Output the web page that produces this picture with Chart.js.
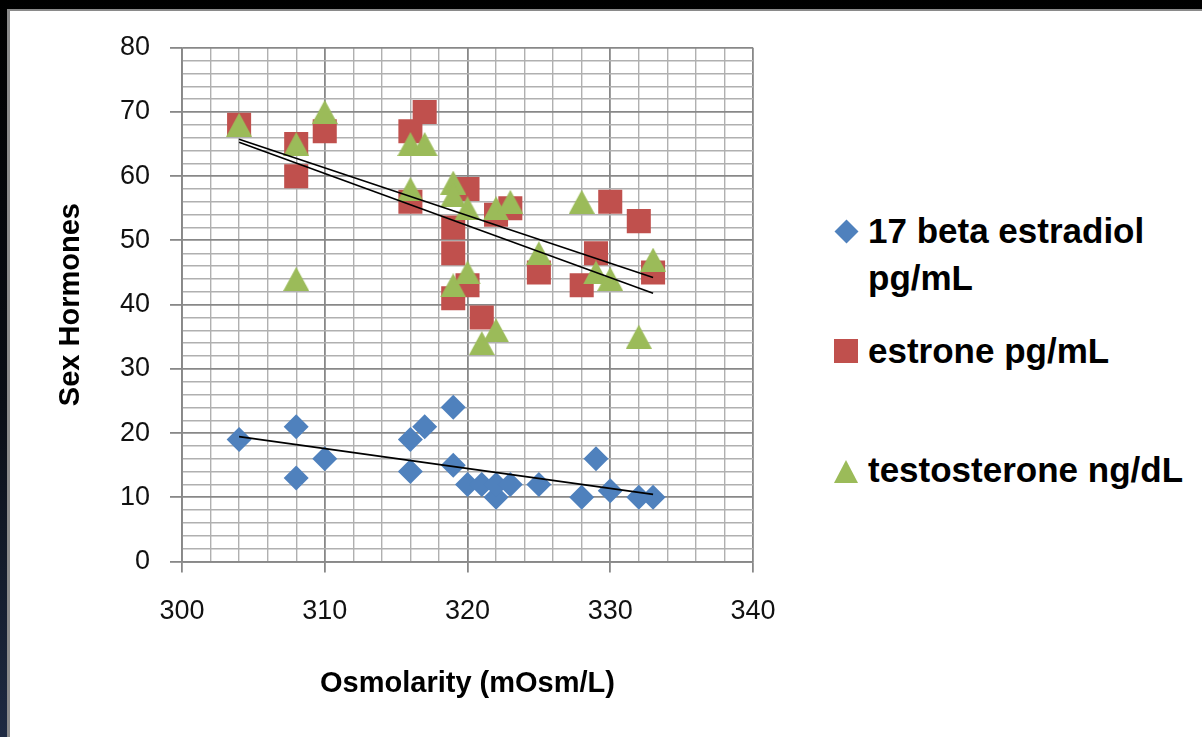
<!DOCTYPE html>
<html>
<head>
<meta charset="utf-8">
<script src="https://cdn.jsdelivr.net/npm/chart.js@4.4.1/dist/chart.umd.min.js"></script>
<style>
  html, body { margin: 0; padding: 0; }
  body {
    width: 1202px; height: 737px; position: relative; overflow: hidden;
    background: linear-gradient(#000 0%, #0a0e16 55%, #1e2a42 100%);
  }
  #paper {
    position: absolute; left: 7px; top: 9px; width: 1195px; height: 728px;
    background: #fff; border-left: 3px solid #8a8a8a; border-top: 2px solid #8a8a8a;
    box-sizing: border-box;
  }
  #wrap { position: absolute; left: 0; top: 0; width: 800px; height: 737px; }
  .item {
    position: absolute; left: 868px; white-space: nowrap;
    font: bold 35px "Liberation Sans", Arial, sans-serif; line-height: 47px; color: #000;
  }
  .mark { position: absolute; }
</style>
</head>
<body>
<div id="paper"></div>
<div id="wrap"><canvas id="my-chart" width="800" height="737"></canvas></div>
<div id="legend"></div>

<script>
'use strict';

// 17 beta estradiol pg/mL
const estradiolOsm = [304, 308, 308, 310, 316, 316, 317, 319, 319, 320, 321, 322, 322, 323, 325, 328, 329, 330, 332, 333];
const estradiolVal = [19, 21, 13, 16, 19, 14, 21, 24, 15, 12, 12, 10, 12, 12, 12, 10, 16, 11, 10, 10];

// estrone pg/mL
const estroneOsm = [304, 308, 308, 310, 316, 316, 317, 319, 319, 319, 320, 320, 321, 322, 323, 325, 328, 329, 330, 332, 333];
const estroneVal = [68, 65, 60, 67, 67, 56, 70, 52, 48, 41, 58, 43, 38, 54, 55, 45, 43, 48, 56, 53, 45];

// testosterone ng/dL
const testoOsm = [304, 308, 308, 310, 316, 316, 317, 319, 319, 319, 320, 320, 321, 322, 322, 323, 325, 328, 329, 330, 332, 333];
const testoVal = [68, 65, 44, 70, 65, 58, 65, 59, 57, 43, 55, 45, 34, 55, 36, 56, 48, 56, 45, 44, 35, 47];

const seriesNames = ['17 beta estradiol pg/mL', 'estrone pg/mL', 'testosterone ng/dL'];
const seriesColors = ['#4F81BD', '#C0504D', '#9BBB59'];

const xMin = 300, xMax = 340, xStep = 2;
const yMin = 0, yMax = 80, yStep = 2;

const MAJOR = '#888888';
const MINOR = '#b0b0b0';
const tickFont = { family: '"Liberation Sans Narrow", "Liberation Sans", Arial, sans-serif', size: 27 };
const titleFont = { family: '"Liberation Sans", Arial, sans-serif', size: 29, weight: 'bold' };


function toPoints(xs, ys) {
  let pts = [];
  for (let i = 0; i < xs.length; i++) {
    pts.push({ x: xs[i], y: ys[i] });
  }
  return pts;
}

// least squares line, drawn from lowest to highest x
function trendPoints(xs, ys) {
  let n = xs.length;
  let mx = xs.reduce((a, b) => a + b, 0) / n;
  let my = ys.reduce((a, b) => a + b, 0) / n;
  let sxy = 0, sxx = 0;
  for (let i = 0; i < n; i++) {
    sxy += (xs[i] - mx) * (ys[i] - my);
    sxx += (xs[i] - mx) * (xs[i] - mx);
  }
  let slope = sxy / sxx;
  let lo = Math.min(...xs), hi = Math.max(...xs);
  return [
    { x: lo, y: my + slope * (lo - mx) },
    { x: hi, y: my + slope * (hi - mx) }
  ];
}

// excel style triangle marker
function triangleMarker(color) {
  let c = document.createElement('canvas');
  c.width = 26;
  c.height = 24;
  let g = c.getContext('2d');
  g.fillStyle = color;
  g.beginPath();
  g.moveTo(0, 24);
  g.lineTo(13, 0);
  g.lineTo(26, 24);
  g.closePath();
  g.fill();
  return c;
}

function trendSet(pts) {
  return {
    type: 'line', data: pts, showLine: true, pointRadius: 0,
    borderColor: '#000', borderWidth: 1.6, order: 0
  };
}

const isMajor = v => v % 10 === 0;

const chartData = {
  type: 'scatter',
  data: {
    datasets: [
      trendSet(trendPoints(estradiolOsm, estradiolVal)),
      trendSet(trendPoints(estroneOsm, estroneVal)),
      trendSet(trendPoints(testoOsm, testoVal)),
      {
        label: seriesNames[2], data: toPoints(testoOsm, testoVal),
        pointStyle: triangleMarker(seriesColors[2]), order: 1
      },
      {
        label: seriesNames[1], data: toPoints(estroneOsm, estroneVal),
        pointStyle: 'rect', pointRadius: 17, backgroundColor: seriesColors[1],
        borderWidth: 0, order: 2
      },
      {
        label: seriesNames[0], data: toPoints(estradiolOsm, estradiolVal),
        pointStyle: 'rectRot', pointRadius: 12.5, backgroundColor: seriesColors[0],
        borderWidth: 0, order: 3
      }
    ]
  },
  options: {
    responsive: false,
    animation: false,
    devicePixelRatio: 1,
    layout: { padding: { top: 47.7, right: 47, left: 0, bottom: 0 } },
    plugins: { legend: { display: false }, tooltip: { enabled: false } },
    scales: {
      x: {
        type: 'linear', min: xMin, max: xMax,
        afterFit: axis => { axis.height = 175.5; },
        ticks: {
          stepSize: xStep, autoSkip: false, maxRotation: 0, padding: 23,
          callback: v => isMajor(v) ? v : '',
          font: tickFont, color: '#111'
        },
        grid: {
          color: ctx => isMajor(ctx.tick.value) ? MAJOR : MINOR,
          lineWidth: ctx => isMajor(ctx.tick.value) ? 1.8 : 1.4,
          tickColor: ctx => isMajor(ctx.tick.value) ? MAJOR : 'rgba(0,0,0,0)',
          tickLength: 11
        },
        border: { color: MAJOR, width: 1.8 },
        title: {
          display: true, text: 'Osmolarity (mOsm/L)', font: titleFont, color: '#000',
          padding: { top: 0, bottom: 36 }
        }
      },
      y: {
        min: yMin, max: yMax,
        afterFit: axis => { axis.width = 182; },
        ticks: {
          stepSize: yStep, autoSkip: false, padding: 20,
          callback: v => isMajor(v) ? v : '',
          font: tickFont, color: '#111'
        },
        grid: {
          color: ctx => isMajor(ctx.tick.value) ? MAJOR : MINOR,
          lineWidth: ctx => isMajor(ctx.tick.value) ? 1.8 : 1.4,
          tickColor: ctx => isMajor(ctx.tick.value) ? MAJOR : 'rgba(0,0,0,0)',
          tickLength: 12
        },
        border: { color: MAJOR, width: 1.8 },
        title: {
          display: true, text: 'Sex Hormones', font: titleFont, color: '#000',
          padding: { top: 54, bottom: 0 }
        }
      }
    }
  }
};

let myChart = new Chart(document.getElementById('my-chart').getContext('2d'), chartData);


// legend on the right, written as page text
function renderLegend() {
  let legend = document.getElementById('legend');
  let rows = [
    { lines: ['17 beta estradiol', 'pg/mL'], top: 207, mark: 'diamond' },
    { lines: [seriesNames[1]], top: 327, mark: 'square' },
    { lines: [seriesNames[2]], top: 446, mark: 'triangle' }
  ];
  for (let i = 0; i < rows.length; i++) {
    let item = document.createElement('div');
    item.className = 'item';
    item.style.top = rows[i].top + 'px';
    item.innerHTML = rows[i].lines.join('<br>');
    legend.appendChild(item);

    let mark = document.createElement('div');
    mark.className = 'mark';
    if (rows[i].mark === 'diamond') {
      mark.style.cssText = 'left:838px;top:223px;width:17px;height:17px;transform:rotate(45deg);background:' + seriesColors[0];
    } else if (rows[i].mark === 'square') {
      mark.style.cssText = 'left:834px;top:339px;width:24px;height:24px;background:' + seriesColors[1];
    } else {
      mark.style.cssText = 'left:834px;top:460px;width:0;height:0;border-left:12px solid transparent;border-right:12px solid transparent;border-bottom:23px solid ' + seriesColors[2];
    }
    legend.appendChild(mark);
  }
}

renderLegend();
</script>
</body>
</html>
